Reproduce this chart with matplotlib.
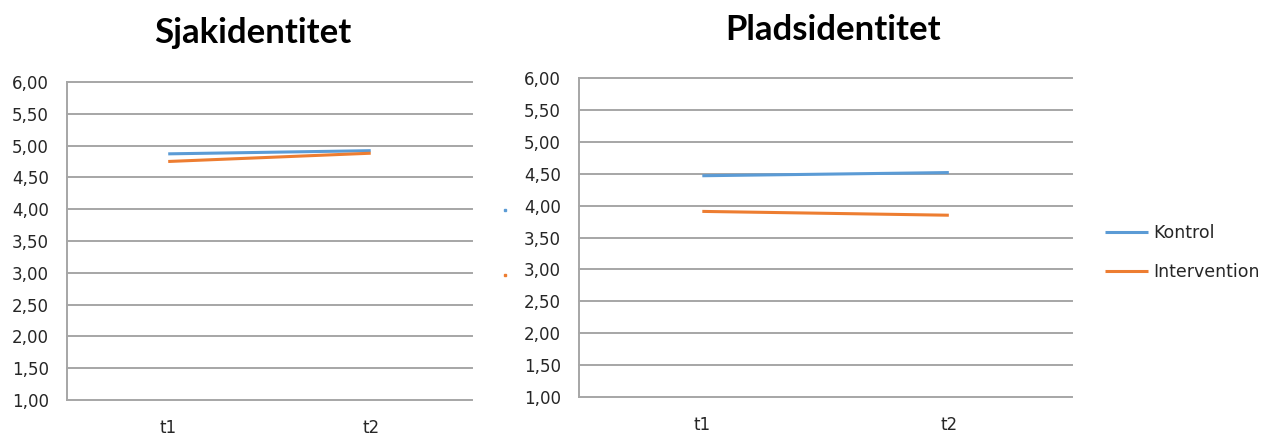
import matplotlib
matplotlib.use("Agg")
import matplotlib.pyplot as plt
from matplotlib.lines import Line2D

# Data
time_points = ["t1", "t2"]
series_names = ["Kontrol", "Intervention"]
sjak_kontrol = [4.87, 4.92]
sjak_intervention = [4.75, 4.88]
plads_kontrol = [4.47, 4.52]
plads_intervention = [3.91, 3.85]
y_ticks = [1.0, 1.5, 2.0, 2.5, 3.0, 3.5, 4.0, 4.5, 5.0, 5.5, 6.0]
titles = ["Sjakidentitet", "Pladsidentitet"]

BLUE = "#5B9BD5"
ORANGE = "#ED7D31"
GRID = "#A6A6A6"
TXT = "#262626"

fig = plt.figure(figsize=(12.61, 4.37), dpi=100)
ax1 = fig.add_axes([0.0531, 0.0847, 0.3212, 0.7277])
ax2 = fig.add_axes([0.4592, 0.0922, 0.3910, 0.7286])


def style(ax, kontrol, intervention):
    x = list(range(len(time_points)))
    ax.plot(x, kontrol, color=BLUE, lw=2.2, solid_capstyle="butt", label=series_names[0], zorder=3)
    ax.plot(x, intervention, color=ORANGE, lw=2.2, solid_capstyle="butt", label=series_names[1], zorder=3)
    ax.set_xlim(-0.5, len(time_points) - 0.5)
    ax.set_ylim(y_ticks[0], y_ticks[-1])
    ax.set_yticks(y_ticks)
    ax.set_yticklabels([f"{v:.2f}".replace(".", ",") for v in y_ticks])
    ax.set_xticks(x)
    ax.set_xticklabels(time_points)
    for v in y_ticks:
        ax.axhline(v, color=GRID, lw=1.4, zorder=1, clip_on=False)
    for s in ["top", "right", "bottom"]:
        ax.spines[s].set_visible(False)
    ax.spines["left"].set_color(GRID)
    ax.spines["left"].set_linewidth(1.4)
    ax.tick_params(axis="both", length=0, labelsize=12, colors=TXT)
    ax.tick_params(axis="y", pad=13)
    ax.tick_params(axis="x", pad=14)
    for lab in ax.get_xticklabels() + ax.get_yticklabels():
        lab.set_fontfamily("DejaVu Sans")


style(ax1, sjak_kontrol, sjak_intervention)
style(ax2, plads_kontrol, plads_intervention)

fig.text(0.2007, 0.925, titles[0], ha="center", va="center", fontsize=25,
         fontweight="bold", family="Lato", color="#000000")
fig.text(0.6606, 0.932, titles[1], ha="center", va="center", fontsize=25,
         fontweight="bold", family="Lato", color="#000000")

# Small stray legend keys left of the second chart
fig.add_artist(Line2D([0.4005], [1 - 210 / 437], marker="s", ms=1.8, color=BLUE, lw=0))
fig.add_artist(Line2D([0.4005], [1 - 275 / 437], marker="s", ms=1.8, color=ORANGE, lw=0))

handles, labels = ax2.get_legend_handles_labels()
leg = fig.legend(handles, labels, loc="upper left", bbox_to_anchor=(0.871, 0.503),
                 frameon=False, fontsize=12.5, handlelength=2.45, handletextpad=0.3,
                 labelspacing=1.18, borderaxespad=0)
for t in leg.get_texts():
    t.set_color(TXT)

fig.savefig("out.png", dpi=100, facecolor="white")
